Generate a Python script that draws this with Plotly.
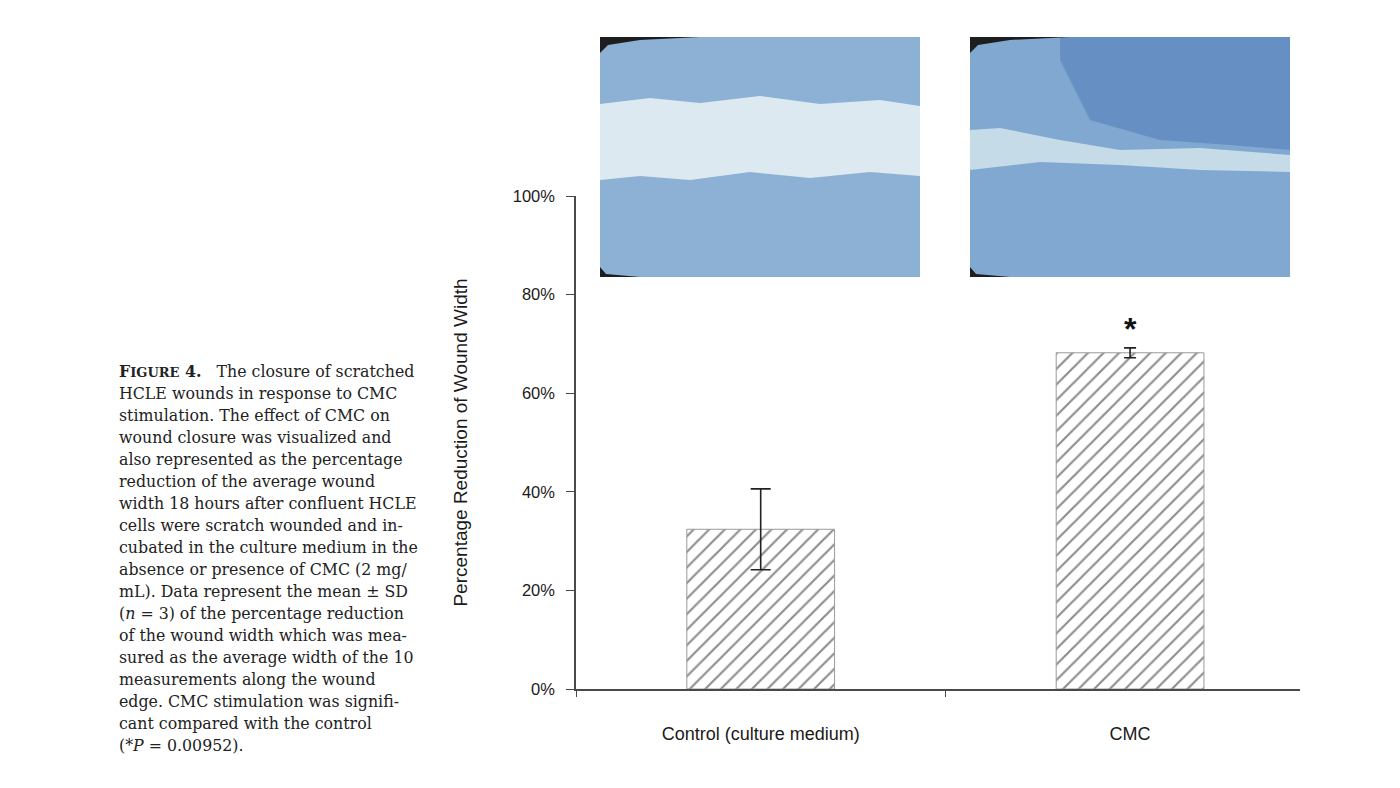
import plotly.graph_objects as go

# data
groups = ["Control (culture medium)", "CMC"]
mean_pct = [32.4, 68.2]
sd_pct = [8.2, 1.0]
signif = ["", "*"]
y_ticks = [0, 20, 40, 60, 80, 100]

caption = [
    "<b>F<span style='font-size:13px'>IGURE</span> 4.</b>   The closure of scratched",
    "HCLE wounds in response to CMC",
    "stimulation. The effect of CMC on",
    "wound closure was visualized and",
    "also represented as the percentage",
    "reduction of the average wound",
    "width 18 hours after confluent HCLE",
    "cells were scratch wounded and in-",
    "cubated in the culture medium in the",
    "absence or presence of CMC (2 mg/",
    "mL). Data represent the mean ± SD",
    "(<i>n</i> = 3) of the percentage reduction",
    "of the wound width which was mea-",
    "sured as the average width of the 10",
    "measurements along the wound",
    "edge. CMC stimulation was signifi-",
    "cant compared with the control",
    "(*<i>P</i> = 0.00952).",
]

# page geometry (pixels in the screenshot; the page body adds 8px)
OFF = 8
W, H = 1400, 788
L, R, T, B = 576 - OFF, 1300 - OFF, 196 - OFF, 689 - OFF


def px(x):
    return (x - OFF - L) / (R - L)


def py(y):
    return (B - (y - OFF)) / (B - T)


def poly(pts):
    return "M " + " L ".join(f"{px(a)},{py(b)}" for a, b in pts) + " Z"


axis_col = "#4a4a4a"
sans = "Liberation Sans, Arial, sans-serif"

fig = go.Figure()
cap_w = [10, 6]
for i, g in enumerate(groups):
    fig.add_trace(go.Bar(
        x=[g], y=[mean_pct[i]],
        width=0.4,
        marker=dict(color="white",
                    line=dict(color="#9a9a9a", width=1),
                    pattern=dict(shape="/", fgcolor="#1e1e1e", bgcolor="white",
                                 size=11, solidity=0.2)),
        error_y=dict(type="data", array=[sd_pct[i]], color="#222222",
                     thickness=1.6, width=cap_w[i]),
        showlegend=False,
    ))
    if signif[i]:
        fig.add_annotation(x=g, y=mean_pct[i] + sd_pct[i], yshift=19,
                           text="<b>" + signif[i] + "</b>", showarrow=False,
                           font=dict(size=32, color="#111111", family=sans))

# micrograph placeholders above the bars
img_boxes = [(600, 920), (970, 1290)]
img_top, img_bot = 37, 277
for j, (x0, x1) in enumerate(img_boxes):
    base = "#8cb1d5" if j == 0 else "#80a8d1"
    fig.add_shape(type="rect", xref="paper", yref="paper",
                  x0=px(x0), x1=px(x1), y0=py(img_bot), y1=py(img_top),
                  fillcolor=base, line=dict(width=0), layer="above")
    if j == 0:
        # wound gap of the control
        pts = [(600, 104), (650, 98), (700, 103), (760, 96), (820, 104), (880, 100), (920, 106),
               (920, 176), (870, 172), (810, 178), (750, 172), (690, 180), (640, 176), (600, 180)]
        fill = "#dde9f0"
    else:
        # darker upper part and narrow remaining gap
        fig.add_shape(type="path", xref="paper", yref="paper",
                      path=poly([(1060, 37), (1290, 37), (1290, 150), (1230, 145),
                                 (1160, 140), (1090, 120), (1060, 60)]),
                      fillcolor="#6690c4", line=dict(width=0), layer="above")
        pts = [(970, 130), (1000, 128), (1060, 140), (1120, 150), (1200, 148), (1290, 155),
               (1290, 172), (1200, 170), (1120, 165), (1040, 162), (970, 170)]
        fill = "#c6dbe8"
    fig.add_shape(type="path", xref="paper", yref="paper", path=poly(pts),
                  fillcolor=fill, line=dict(width=0), layer="above")
    # dark vignetting at the top-left and bottom-left corners
    fig.add_shape(type="path", xref="paper", yref="paper",
                  path=poly([(x0, img_top), (x0 + 100, img_top), (x0 + 40, img_top + 3),
                             (x0 + 8, img_top + 8), (x0, img_top + 16)]),
                  fillcolor="#1e1e1e", line=dict(width=0), layer="above")
    fig.add_shape(type="path", xref="paper", yref="paper",
                  path=poly([(x0, img_bot), (x0 + 40, img_bot), (x0 + 6, img_bot - 3),
                             (x0, img_bot - 10)]),
                  fillcolor="#1e1e1e", line=dict(width=0), layer="above")

# figure caption on the left
for k, line in enumerate(caption):
    fig.add_annotation(xref="paper", yref="paper", x=px(117), y=py(371 + 22 * k),
                       xanchor="left", yanchor="middle", text=line, showarrow=False,
                       font=dict(family="DejaVu Serif", size=15.8, color="#222222"))

fig.update_layout(
    width=W, height=H, autosize=False,
    margin=dict(l=L, r=W - R, t=T, b=H - B),
    paper_bgcolor="white", plot_bgcolor="white",
    barmode="overlay",
    font=dict(family=sans, color="#1a1a1a"),
)
fig.update_xaxes(
    range=[-0.5, 1.46],
    showline=True, linecolor=axis_col, linewidth=1.5,
    showgrid=False, zeroline=False,
    tickson="boundaries", ticks="outside", ticklen=6, tickcolor=axis_col,
    tickfont=dict(size=18), ticklabelstandoff=28,
)
fig.update_yaxes(
    range=[0, 100],
    tickvals=y_ticks, ticktext=[f"{v}%" for v in y_ticks],
    showline=True, linecolor=axis_col, linewidth=1.5,
    showgrid=False, zeroline=False,
    ticks="outside", ticklen=8, tickcolor=axis_col,
    tickfont=dict(size=16.5), ticklabelstandoff=8,
    title=dict(text="Percentage Reduction of Wound Width", font=dict(size=19), standoff=40),
)

fig.write_html("out.html")
